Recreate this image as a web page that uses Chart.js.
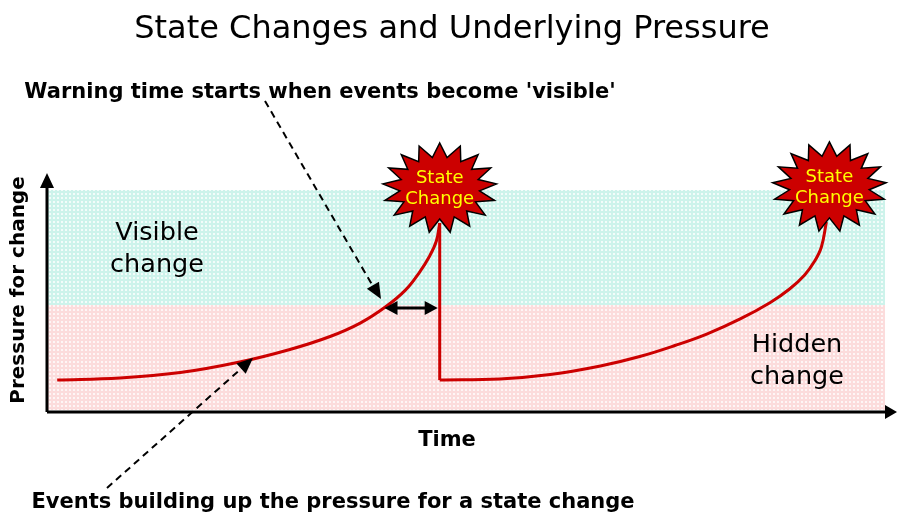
<!DOCTYPE html>
<html>
<head>
<meta charset="utf-8">
<script src="https://cdn.jsdelivr.net/npm/chart.js@4.4.1/dist/chart.umd.min.js"></script>
<style>
  html, body { margin: 0; padding: 0; background: #fff; }
  #wrap { width: 897px; height: 514px; }
</style>
</head>
<body>
<div id="wrap"><canvas id="chart" width="897" height="514"></canvas></div>
<script>
// pressure build-up before the first state change
const riseTime1 = [1.1, 8.6, 15.8, 22.9, 28.9, 33.7, 37.3, 40.3, 42.7, 44.4, 45.6, 46.4, 46.8];
const risePressure1 = [13.6, 14.5, 17.0, 21.8, 27.5, 33.4, 39.5, 46.8, 54.5, 62.7, 70.0, 76.8, 85.0];
// the drop right after the change
const dropTime = [46.8, 46.8];
const dropPressure = [85.0, 13.6];
// build-up towards the second change
const riseTime2 = [46.8, 54.0, 60.0, 66.0, 70.7, 74.9, 78.7, 82.7, 86.3, 88.6, 90.4, 91.6, 92.4, 93.0];
const risePressure2 = [13.6, 14.1, 16.1, 20.0, 24.3, 29.3, 34.5, 41.4, 48.9, 55.0, 61.4, 67.7, 74.1, 85.5];
// pressure above which events become visible
const visibleLevel = 47.7;

const RED = '#cc0000';
const FONT = 'DejaVu Sans, Verdana, sans-serif';

const pts = (xs, ys) => xs.map((x, i) => ({ x, y: ys[i] }));

function dotPattern(ctx, base) {
    const c = document.createElement('canvas');
    c.width = 4; c.height = 4;
    const g = c.getContext('2d');
    g.fillStyle = base;
    g.fillRect(0, 0, 4, 4);
    g.fillStyle = 'rgba(255,255,255,0.75)';
    g.fillRect(1, 1, 2, 2);
    return ctx.createPattern(c, 'repeat');
}

function arrowHead(ctx, x1, y1, x2, y2, len, wid) {
    const a = Math.atan2(y2 - y1, x2 - x1);
    ctx.beginPath();
    ctx.moveTo(x2, y2);
    ctx.lineTo(x2 - len * Math.cos(a) + wid * Math.sin(a), y2 - len * Math.sin(a) - wid * Math.cos(a));
    ctx.lineTo(x2 - len * Math.cos(a) - wid * Math.sin(a), y2 - len * Math.sin(a) + wid * Math.cos(a));
    ctx.closePath();
    ctx.fill();
}

function starburst(ctx, cx, cy) {
    const n = 17;
    ctx.beginPath();
    for (let i = 0; i < n * 2; i++) {
        const a = -Math.PI / 2 + i * Math.PI / n;
        const outer = i % 2 === 0;
        const rx = outer ? 57 : 40;
        const ry = outer ? 45 : 31;
        const px = cx + rx * Math.cos(a), py = cy + ry * Math.sin(a);
        i === 0 ? ctx.moveTo(px, py) : ctx.lineTo(px, py);
    }
    ctx.closePath();
    ctx.fillStyle = RED;
    ctx.fill();
    ctx.lineWidth = 1.5;
    ctx.strokeStyle = '#000';
    ctx.stroke();
    ctx.fillStyle = '#ffff00';
    ctx.font = `18px ${FONT}`;
    ctx.textAlign = 'center';
    ctx.textBaseline = 'middle';
    ctx.fillText('State', cx, cy - 10);
    ctx.fillText('Change', cx, cy + 11);
}

const bands = {
    id: 'bands',
    beforeDatasetsDraw(chart) {
        const { ctx, chartArea: a, scales: { y } } = chart;
        const yv = y.getPixelForValue(visibleLevel);
        ctx.save();
        ctx.fillStyle = dotPattern(ctx, '#cdf3eb');
        ctx.fillRect(a.left, a.top, a.right - a.left, yv - a.top);
        ctx.fillStyle = dotPattern(ctx, '#fcdcdc');
        ctx.fillRect(a.left, yv, a.right - a.left, a.bottom - yv);
        ctx.restore();
    }
};

const decor = {
    id: 'decor',
    afterDraw(chart) {
        const { ctx, chartArea: a, scales: { x, y } } = chart;
        ctx.save();

        // axes with arrow heads
        ctx.strokeStyle = '#000';
        ctx.fillStyle = '#000';
        ctx.lineWidth = 3;
        ctx.beginPath();
        ctx.moveTo(a.left - 1, a.bottom + 2);
        ctx.lineTo(a.left - 1, 186);
        ctx.moveTo(a.left - 1, a.bottom + 2);
        ctx.lineTo(890, a.bottom + 2);
        ctx.stroke();
        arrowHead(ctx, a.left - 1, 300, a.left - 1, 173, 15, 7);
        arrowHead(ctx, 800, a.bottom + 2, 897, a.bottom + 2, 12, 7);

        // titles
        ctx.textAlign = 'center';
        ctx.textBaseline = 'middle';
        ctx.font = `32px ${FONT}`;
        ctx.fillText('State Changes and Underlying Pressure', 452, 30);
        ctx.font = `bold 21px ${FONT}`;
        ctx.fillText('Time', 447, 441);
        ctx.fillText("Warning time starts when events become 'visible'", 320, 93);
        ctx.fillText('Events building up the pressure for a state change', 333, 503);
        ctx.save();
        ctx.translate(19, 290);
        ctx.rotate(-Math.PI / 2);
        ctx.font = `bold 20px ${FONT}`;
        ctx.fillText('Pressure for change', 0, 0);
        ctx.restore();

        ctx.font = `25.5px ${FONT}`;
        ctx.fillText('Visible', 157, 233);
        ctx.fillText('change', 157, 265);
        ctx.fillText('Hidden', 797, 345);
        ctx.fillText('change', 797, 377);

        // dashed pointers
        ctx.lineWidth = 2;
        ctx.setLineDash([7, 5]);
        ctx.beginPath();
        ctx.moveTo(265, 101);
        ctx.lineTo(374, 288);
        ctx.moveTo(107, 488);
        ctx.lineTo(243, 367);
        ctx.stroke();
        ctx.setLineDash([]);
        arrowHead(ctx, 265, 101, 381, 299, 16, 7);
        arrowHead(ctx, 107, 488, 253, 358, 16, 7);

        // warning interval
        const x0 = x.getPixelForValue(40.2), x1 = x.getPixelForValue(riseTime1[riseTime1.length - 1]) - 2;
        const yw = 308;
        ctx.lineWidth = 3;
        ctx.beginPath();
        ctx.moveTo(x0 + 8, yw);
        ctx.lineTo(x1 - 8, yw);
        ctx.stroke();
        arrowHead(ctx, x1, yw, x0, yw, 13, 7);
        arrowHead(ctx, x0, yw, x1, yw, 13, 7);

        // state change markers at the peaks
        const peaks = [
            [riseTime1[riseTime1.length - 1], risePressure1[risePressure1.length - 1]],
            [riseTime2[riseTime2.length - 1], risePressure2[risePressure2.length - 1]]
        ];
        peaks.forEach(([t, p], i) => {
            starburst(ctx, x.getPixelForValue(t) + (i ? 3 : 0), y.getPixelForValue(p) - 35);
        });
        ctx.restore();
    }
};

const line = (data) => ({
    data,
    borderColor: RED,
    borderWidth: 3,
    pointRadius: 0,
    fill: false,
    tension: 0.4
});

new Chart(document.getElementById('chart'), {
    type: 'line',
    data: {
        datasets: [
            line(pts(riseTime1, risePressure1)),
            line(pts(dropTime, dropPressure)),
            line(pts(riseTime2, risePressure2))
        ]
    },
    options: {
        responsive: false,
        animation: false,
        layout: { padding: { left: 48, right: 12, top: 190, bottom: 104 } },
        plugins: { legend: { display: false }, tooltip: { enabled: false }, title: { display: false } },
        scales: {
            x: { type: 'linear', min: 0, max: 100, display: false },
            y: { type: 'linear', min: 0, max: 100, display: false }
        }
    },
    plugins: [bands, decor]
});
</script>
</body>
</html>
